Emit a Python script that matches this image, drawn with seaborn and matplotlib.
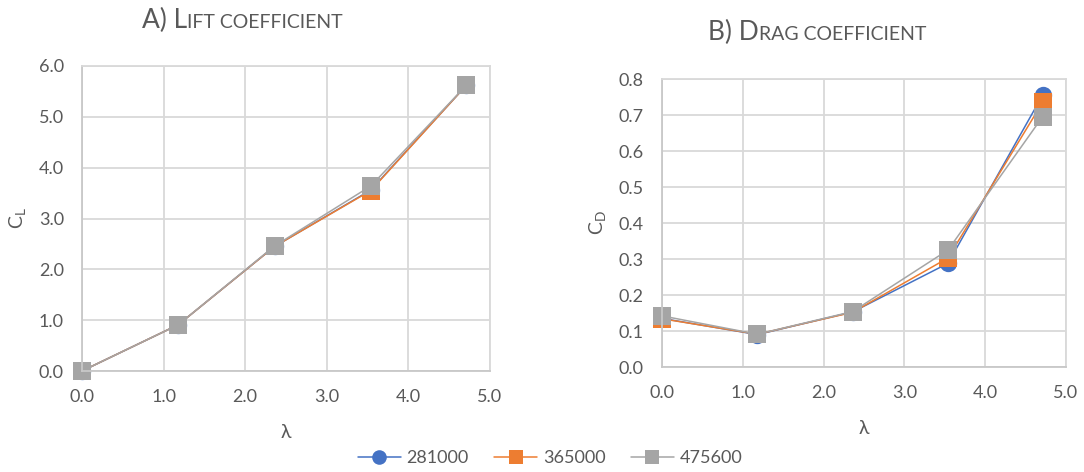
import numpy as np
import pandas as pd
import matplotlib
matplotlib.use("Agg")
import matplotlib.pyplot as plt
import seaborn as sns
from matplotlib.offsetbox import TextArea, HPacker, AnnotationBbox
from matplotlib.lines import Line2D

# ---- data ----
lam = [0.0, 1.18, 2.36, 3.54, 4.71]
series = ["281000", "365000", "475600"]
cl_281000 = [0.0, 0.91, 2.45, 3.56, 5.62]
cl_365000 = [0.0, 0.91, 2.45, 3.55, 5.62]
cl_475600 = [0.0, 0.91, 2.46, 3.64, 5.62]
cd_281000 = [0.135, 0.090, 0.153, 0.288, 0.755]
cd_365000 = [0.134, 0.091, 0.152, 0.303, 0.735]
cd_475600 = [0.142, 0.091, 0.154, 0.325, 0.695]

cl = {"281000": cl_281000, "365000": cl_365000, "475600": cl_475600}
cd = {"281000": cd_281000, "365000": cd_365000, "475600": cd_475600}
rows = []
for s in series:
    for i, x in enumerate(lam):
        rows.append({"lam": x, "CL": cl[s][i], "CD": cd[s][i], "Re": s})
df = pd.DataFrame(rows)

sns.set_theme(style="white")
plt.rcParams["font.family"] = ["Lato", "DejaVu Sans"]
plt.rcParams["mathtext.fontset"] = "custom"
plt.rcParams["mathtext.rm"] = "Lato"

TXT = "#595959"
GRID = "#d9d9d9"
AXIS = "#c8c8c8"
palette = {"281000": "#4472C4", "365000": "#ED7D31", "475600": "#A5A5A5"}
markers = {"281000": "o", "365000": "s", "475600": "s"}
MS = 12.5

fig = plt.figure(figsize=(10.84, 4.72), dpi=100)
ax1 = fig.add_axes([82/1084, 1-371/472, 408/1084, 305/472])
ax2 = fig.add_axes([662/1084, 1-367/472, 404/1084, 288/472])

for ax, col in [(ax1, "CL"), (ax2, "CD")]:
    sns.lineplot(data=df, x="lam", y=col, hue="Re", style="Re", hue_order=series,
                 style_order=series, palette=palette, markers=markers, dashes=False,
                 markersize=MS, markeredgewidth=0, linewidth=1.1, ax=ax, legend=False)
    ax.set_xlim(0, 5)
    ax.set_xticks(np.arange(0, 5.01, 1.0))
    ax.set_xticklabels([f"{v:.1f}" for v in np.arange(0, 5.01, 1.0)])
    ax.grid(True, color=GRID, linewidth=1.3)
    ax.set_axisbelow(True)
    for name, sp in ax.spines.items():
        sp.set_color(AXIS if name in ("left", "bottom") else GRID)
        sp.set_linewidth(1.3)
    ax.tick_params(colors=TXT, labelsize=13, length=0, pad=13)
    ax.set_xlabel("λ", color=TXT, fontsize=14, labelpad=14)
    for line in ax.lines:
        line.set_clip_on(False)

ax1.set_ylim(0, 6)
ax1.set_yticks(np.arange(0, 6.01, 1.0))
ax1.set_yticklabels([f"{v:.1f}" for v in np.arange(0, 6.01, 1.0)])
ax1.set_ylabel(r"$\mathregular{C_L}$", color=TXT, fontsize=14, labelpad=8)

ax2.set_ylim(0, 0.8)
ax2.set_yticks(np.arange(0, 0.801, 0.1))
ax2.set_yticklabels([f"{v:.1f}" for v in np.arange(0, 0.801, 0.1)])
ax2.set_ylabel(r"$\mathregular{C_D}$", color=TXT, fontsize=14, labelpad=8)

def smallcaps_title(parts, xy):
    boxes = [TextArea(t, textprops=dict(size=sz, color=TXT, family=["Lato", "DejaVu Sans"]))
             for t, sz in parts]
    pack = HPacker(children=boxes, align="baseline", pad=0, sep=0)
    ab = AnnotationBbox(pack, xy, xycoords="figure fraction", frameon=False,
                        box_alignment=(0.5, 0.5))
    fig.add_artist(ab)

smallcaps_title([("A) L", 19), ("IFT COEFFICIENT", 14)], (242/1084, 1-20/472))
smallcaps_title([("B) D", 19), ("RAG COEFFICIENT", 14)], (817/1084, 1-32/472))

handles = [Line2D([], [], color=palette[s], marker=markers[s], markersize=10.5,
                  markeredgewidth=0, linewidth=1.1) for s in series]
leg = fig.legend(handles, series, loc="center", bbox_to_anchor=(550/1084, 1-458/472),
                 ncol=3, frameon=False, fontsize=13, handlelength=2.4,
                 columnspacing=1.4, handletextpad=0.3)
for t in leg.get_texts():
    t.set_color(TXT)

fig.savefig("out.png", dpi=100)
